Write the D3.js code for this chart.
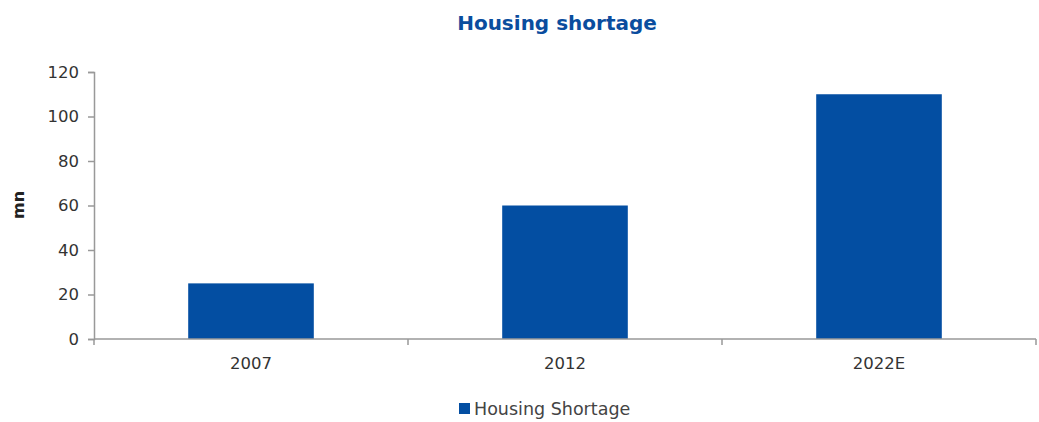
<!DOCTYPE html>
<html>
<head>
<meta charset="utf-8">
<script src="https://cdnjs.cloudflare.com/ajax/libs/d3/7.8.5/d3.min.js"></script>
<style>
  body { margin: 0; background: #fff; }
  text { font-family: "DejaVu Sans", sans-serif; }
</style>
</head>
<body>
<div id="chart"></div>
<script>
// housing shortage bars
var categories = ["2007", "2012", "2022E"];
var shortage = [25, 60, 110];
var yTicks = [0, 20, 40, 60, 80, 100, 120];

var W = 1039, H = 422;
var plotLeft = 94, plotRight = 1036, plotTop = 72, plotBottom = 339;

var svg = d3.select("#chart")
    .append("svg")
    .attr("width", W)
    .attr("height", H);

var x = d3.scaleBand().domain(categories).range([plotLeft, plotRight]).padding(0);
var y = d3.scaleLinear().domain([0, 120]).range([plotBottom, plotTop]);

svg.append("text")
    .attr("x", 557)
    .attr("y", 30)
    .attr("text-anchor", "middle")
    .attr("fill", "#0a4d9e")
    .attr("font-size", 20)
    .attr("font-weight", "bold")
    .text("Housing shortage");

// bars
svg.selectAll("rect.bar")
    .data(shortage)
    .enter()
    .append("rect")
    .attr("class", "bar")
    .attr("x", function(d, i){ return x(categories[i]) + x.bandwidth() * 0.3; })
    .attr("width", x.bandwidth() * 0.4)
    .attr("y", function(d){ return y(d); })
    .attr("height", function(d){ return y(0) - y(d); })
    .attr("fill", "#034ea2");

// y axis
var yAxis = d3.axisLeft(y).tickValues(yTicks).tickSize(6).tickPadding(9);
var gy = svg.append("g").attr("transform", "translate(" + plotLeft + ",0)").call(yAxis);
gy.select(".domain").attr("stroke", "#999").attr("stroke-width", 1.5);
gy.selectAll(".tick line").attr("stroke", "#999").attr("stroke-width", 1.5);
gy.selectAll(".tick text").attr("font-size", 16.5).attr("fill", "#333")
    .attr("font-family", "DejaVu Sans, sans-serif");

// x axis, ticks on category boundaries
var gx = svg.append("g").attr("transform", "translate(0," + plotBottom + ")");
gx.append("line")
    .attr("x1", plotLeft).attr("x2", plotRight)
    .attr("stroke", "#999").attr("stroke-width", 1.5);
var bounds = categories.map(function(c){ return x(c); }).concat([x(categories[categories.length - 1]) + x.bandwidth()]);
gx.selectAll("line.tk")
    .data(bounds)
    .enter()
    .append("line")
    .attr("class", "tk")
    .attr("x1", function(d){ return d; }).attr("x2", function(d){ return d; })
    .attr("y1", 0).attr("y2", 6)
    .attr("stroke", "#999").attr("stroke-width", 1.5);
gx.selectAll("text")
    .data(categories)
    .enter()
    .append("text")
    .attr("x", function(d){ return x(d) + x.bandwidth() / 2; })
    .attr("y", 30)
    .attr("text-anchor", "middle")
    .attr("font-size", 16.5)
    .attr("fill", "#333")
    .text(function(d){ return d; });

// y label
svg.append("text")
    .attr("transform", "translate(24,205) rotate(-90)")
    .attr("text-anchor", "middle")
    .attr("font-size", 16)
    .attr("font-weight", "bold")
    .attr("fill", "#222")
    .text("mn");

// legend
svg.append("rect")
    .attr("x", 459).attr("y", 403)
    .attr("width", 11).attr("height", 11)
    .attr("fill", "#034ea2");
svg.append("text")
    .attr("x", 474).attr("y", 415)
    .attr("font-size", 17.5)
    .attr("fill", "#444")
    .text("Housing Shortage");
</script>
</body>
</html>
